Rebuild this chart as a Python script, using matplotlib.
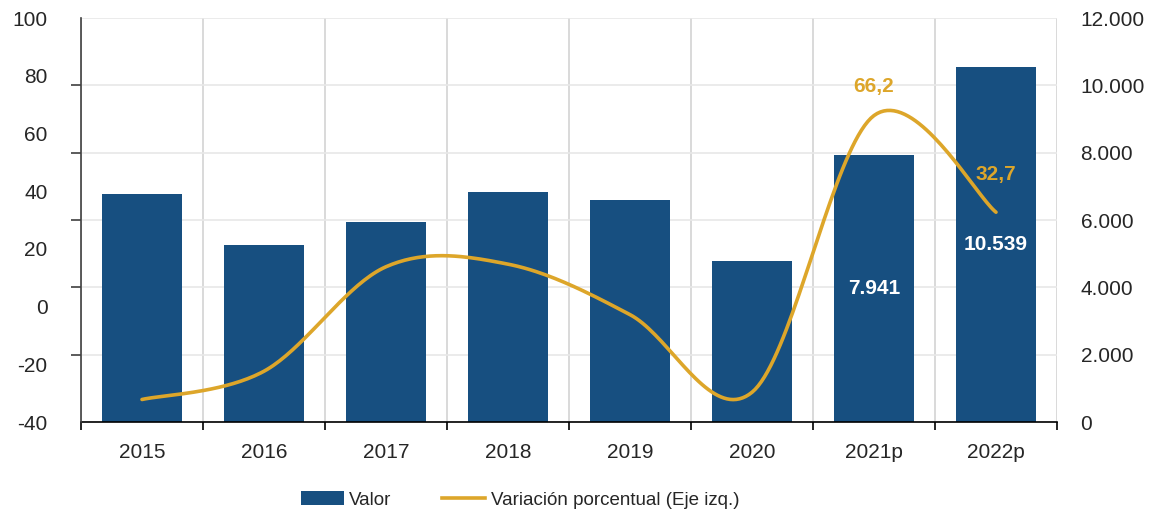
import matplotlib.pyplot as plt
import numpy as np
from matplotlib.patches import Patch
from matplotlib.lines import Line2D

plt.rcParams['font.family'] = ['Liberation Sans', 'DejaVu Sans']
plt.rcParams['axes.unicode_minus'] = False

years = ["2015", "2016", "2017", "2018", "2019", "2020", "2021p", "2022p"]
valor = [6770, 5260, 5940, 6830, 6590, 4780, 7941, 10539]
variacion = [-32.2, -22.4, 13.8, 14.7, -2.8, -29.7, 66.2, 32.7]
valor_labels = {6: "7.941", 7: "10.539"}
var_labels = {6: ("66,2", 21), 7: ("32,7", 27)}

BAR = "#174F80"
GOLD = "#DDA62A"
TXT = "#262626"
FS = 15


def smooth_curve(xs, ys, n=40):
    # cubic Bezier through every point, tangents from the neighbours
    xs = np.asarray(xs, float)
    ys = np.asarray(ys, float)
    px, py = [], []
    last = len(xs) - 1
    for i in range(last):
        a, b = max(i - 1, 0), min(i + 2, last)
        c1x = xs[i] + (xs[i + 1] - xs[a]) / 6
        c1y = ys[i] + (ys[i + 1] - ys[a]) / 6
        c2x = xs[i + 1] - (xs[b] - xs[i]) / 6
        c2y = ys[i + 1] - (ys[b] - ys[i]) / 6
        t = np.linspace(0, 1, n)
        u = 1 - t
        px.append(u**3 * xs[i] + 3 * u**2 * t * c1x + 3 * u * t**2 * c2x + t**3 * xs[i + 1])
        py.append(u**3 * ys[i] + 3 * u**2 * t * c1y + 3 * u * t**2 * c2y + t**3 * ys[i + 1])
    return np.concatenate(px), np.concatenate(py)


fig = plt.figure(figsize=(11.62, 5.19), dpi=100)
ax = fig.add_axes([81 / 1162, 1 - 422 / 519, (1057 - 81) / 1162, (422 - 18) / 519])
axl = ax.twinx()

x = np.arange(len(years))
ax.bar(x, valor, width=0.66, color=BAR, zorder=2)
for i, txt in valor_labels.items():
    ax.text(x[i], valor[i] / 2, txt, ha="center", va="center", color="white",
            fontsize=FS, fontweight="bold", zorder=4)

ax.set_xlim(-0.5, len(years) - 0.5)
ax.set_ylim(0, 12000)
ax.yaxis.tick_right()
ax.set_yticks(np.arange(0, 12001, 2000))
ax.set_yticklabels([f"{v:,}".replace(",", ".") for v in range(0, 12001, 2000)])
ax.tick_params(axis="y", length=0, pad=17, labelsize=FS, labelcolor=TXT)
ax.grid(axis="y", color="#E8E8E8", linewidth=1.2, zorder=0)

ax.set_xticks(x)
ax.set_xticklabels(years)
ax.set_xticks(np.arange(-0.5, len(years)), minor=True)
ax.tick_params(axis="x", which="major", length=0, pad=15, labelsize=FS, labelcolor=TXT)
ax.tick_params(axis="x", which="minor", length=6, width=1.2, color="black")
ax.grid(axis="x", which="minor", color="#D3D3D3", linewidth=1.2, zorder=0)
for s in ["top", "right", "left"]:
    ax.spines[s].set_visible(False)
ax.spines["bottom"].set_color("black")
ax.spines["bottom"].set_linewidth(1.2)
ax.spines["bottom"].set_zorder(5)

# percentage change on the left axis
axl.yaxis.tick_left()
axl.set_ylim(-40, 100)
axl.set_yticks(np.arange(-40, 101, 20))
axl.set_yticks(-40 + np.arange(0, 7) * 140 / 6, minor=True)
axl.tick_params(axis="y", which="major", length=0, pad=24, labelsize=FS, labelcolor=TXT)
axl.tick_params(axis="y", which="minor", length=7, width=1.2, color="#404040")
for s in ["top", "right", "bottom"]:
    axl.spines[s].set_visible(False)
axl.spines["left"].set_color("#404040")
axl.spines["left"].set_linewidth(1.2)

sx, sy = smooth_curve(x, variacion)
axl.plot(sx, sy, color=GOLD, linewidth=2.6, solid_capstyle="round", zorder=3)
for i, (txt, off) in var_labels.items():
    axl.annotate(txt, (x[i], variacion[i]), xytext=(0, off), textcoords="offset points",
                 ha="center", va="center", color=GOLD, fontsize=FS, fontweight="bold")

handles = [Patch(facecolor=BAR, edgecolor="none"),
           Line2D([0], [0], color=GOLD, linewidth=2.6)]
fig.legend(handles, ["Valor", "Variación porcentual (Eje izq.)"], loc="center",
           bbox_to_anchor=(520 / 1162, 1 - 500 / 519), ncol=2, frameon=False,
           fontsize=13.5, handlelength=2.3, handleheight=0.75, handletextpad=0.3,
           columnspacing=2.7, labelcolor=TXT)

fig.savefig("out.png", dpi=100)
